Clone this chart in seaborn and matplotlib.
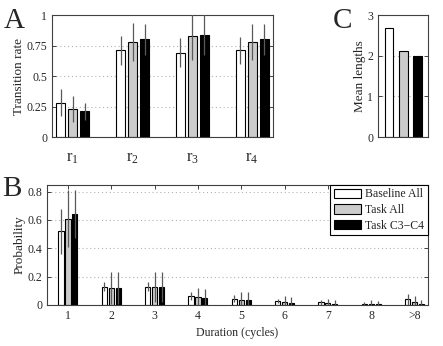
import pandas as pd
import seaborn as sns
import matplotlib.pyplot as plt

groups = ['Baseline All', 'Task All', 'Task C3\u2212C4']
colors = ['white', '0.8', 'black']

# panel A: transition rates
rates = [r'$\mathrm{r}_1$', r'$\mathrm{r}_2$', r'$\mathrm{r}_3$', r'$\mathrm{r}_4$']
rate_baseline = [0.28, 0.71, 0.69, 0.71]
rate_task = [0.23, 0.78, 0.83, 0.78]
rate_c34 = [0.21, 0.80, 0.84, 0.80]
rate_err_baseline = [0.11, 0.12, 0.12, 0.11]
rate_err_task = [0.11, 0.155, 0.20, 0.15]
rate_err_c34 = [0.07, 0.13, 0.17, 0.13]

# panel B: duration distribution
durations = ['1', '2', '3', '4', '5', '6', '7', '8', '>8']
dur_baseline = [0.52, 0.13, 0.13, 0.065, 0.045, 0.028, 0.018, 0.010, 0.040]
dur_task = [0.61, 0.12, 0.125, 0.055, 0.035, 0.020, 0.012, 0.006, 0.020]
dur_c34 = [0.64, 0.12, 0.125, 0.048, 0.033, 0.015, 0.008, 0.005, 0.008]
dur_err_baseline = [0.16, 0.03, 0.03, 0.03, 0.025, 0.017, 0.017, 0.012, 0.040]
dur_err_task = [0.20, 0.11, 0.105, 0.065, 0.060, 0.045, 0.028, 0.029, 0.040]
dur_err_c34 = [0.17, 0.11, 0.105, 0.067, 0.057, 0.040, 0.027, 0.025, 0.027]

# panel C: mean lengths
mean_lengths = [2.68, 2.12, 1.98]

sns.set_style('ticks')
plt.rcParams['font.family'] = ['Liberation Serif', 'DejaVu Serif']
plt.rcParams['mathtext.fontset'] = 'custom'
plt.rcParams['mathtext.rm'] = 'Liberation Serif'
plt.rcParams['mathtext.it'] = 'Liberation Serif:italic'


def long_df(cats, series):
    rows = []
    for g, vals in zip(groups, series):
        for c, v in zip(cats, vals):
            rows.append({'cat': c, 'group': g, 'value': v})
    return pd.DataFrame(rows)


def style_axes(ax):
    for s in ax.spines.values():
        s.set_color('0.25')
        s.set_linewidth(0.8)
    ax.tick_params(direction='in', length=3, width=0.7, color='0.25',
                   labelsize=8.5, top=True, right=True)
    ax.yaxis.grid(True, linestyle=(0, (1, 2.5)), color='0.7', linewidth=0.8)
    ax.set_axisbelow(True)


def add_errors(ax, errs):
    for cont, err in zip(ax.containers, errs):
        xs = [b.get_x() + b.get_width() / 2 for b in cont]
        ys = [b.get_height() for b in cont]
        ax.errorbar(xs, ys, yerr=err, fmt='none', ecolor='0.35',
                    elinewidth=0.9, capsize=0, zorder=5)


fig = plt.figure(figsize=(4.43, 3.46), dpi=100)
axA = fig.add_axes([0.1174, 0.604, 0.499, 0.3526])
axC = fig.add_axes([0.853, 0.604, 0.113, 0.3526])
axB = fig.add_axes([0.106, 0.1185, 0.86, 0.347])

dfA = long_df(rates, [rate_baseline, rate_task, rate_c34])
sns.barplot(data=dfA, x='cat', y='value', hue='group', hue_order=groups,
            palette=colors, edgecolor='black', linewidth=0.8, width=0.6,
            gap=0.25, errorbar=None, legend=False, ax=axA)
add_errors(axA, [rate_err_baseline, rate_err_task, rate_err_c34])
style_axes(axA)
axA.set_xlim(-0.35, 3.35)
axA.set_ylim(0, 1)
axA.set_yticks([0, 0.25, 0.5, 0.75, 1])
axA.set_yticklabels(['0', '0.25', '0.5', '0.75', '1'])
axA.tick_params(axis='x', length=0, labelsize=12, pad=9)
axA.set_xlabel('')
axA.set_ylabel('Transition rate', fontsize=9.5, labelpad=1)

dfC = pd.DataFrame({'group': groups, 'value': mean_lengths})
sns.barplot(data=dfC, x='group', y='value', hue='group', hue_order=groups,
            palette=colors, edgecolor='black', linewidth=0.8, width=0.6,
            legend=False, ax=axC)
style_axes(axC)
axC.set_xlim(-0.77, 2.72)
axC.set_ylim(0, 3)
axC.set_yticks([0, 1, 2, 3])
axC.set_xticks([])
axC.set_xlabel('')
axC.set_ylabel('Mean lengths', fontsize=9.5, labelpad=1)

dfB = long_df(durations, [dur_baseline, dur_task, dur_c34])
sns.barplot(data=dfB, x='cat', y='value', hue='group', hue_order=groups,
            palette=colors, edgecolor='black', linewidth=0.8, width=0.48,
            gap=0.25, errorbar=None, ax=axB)
add_errors(axB, [dur_err_baseline, dur_err_task, dur_err_c34])
style_axes(axB)
axB.set_xlim(-0.485, 8.31)
axB.set_ylim(0, 0.847)
axB.set_yticks([0, 0.2, 0.4, 0.6, 0.8])
axB.set_yticklabels(['0', '0.2', '0.4', '0.6', '0.8'])
axB.set_xlabel('Duration (cycles)', fontsize=8.5, labelpad=4)
axB.set_ylabel('Probability', fontsize=9.5, labelpad=1)
leg = axB.legend(loc='upper right', borderaxespad=0, fancybox=False,
                 framealpha=1, edgecolor='black', fontsize=8.5,
                 handlelength=2.3, handleheight=0.9, labelspacing=0.3,
                 borderpad=0.3, handletextpad=0.4)
leg.get_frame().set_linewidth(0.8)
leg.set_title(None)

fig.text(0.008, 0.978, 'A', fontsize=21, va='top', ha='left')
fig.text(0.752, 0.978, 'C', fontsize=21, va='top', ha='left')
fig.text(0.006, 0.49, 'B', fontsize=21, va='top', ha='left')

fig.savefig('out.png', dpi=100)
